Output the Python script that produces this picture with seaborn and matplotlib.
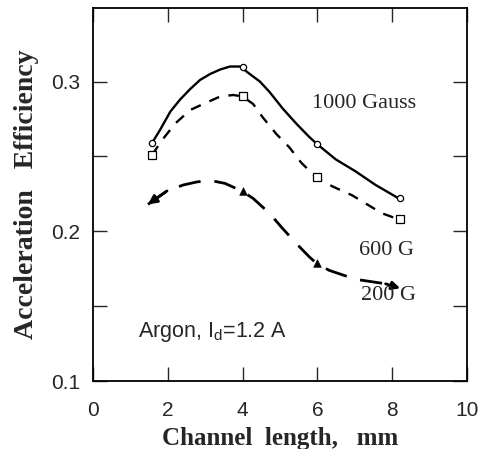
import matplotlib
matplotlib.use("Agg")
import matplotlib.pyplot as plt
import seaborn as sns

# measured data points
x_pts = [1.58, 4.0, 6.0, 8.2]
eff_1000 = [0.259, 0.310, 0.258, 0.222]
eff_600 = [0.251, 0.290, 0.236, 0.208]
eff_200 = [0.218, 0.227, 0.179, 0.162]

# hand-drawn fit curves
c1000_x = [1.58, 1.80, 2.07, 2.33, 2.60, 2.86, 3.13, 3.40, 3.66, 3.93, 4.19, 4.46, 4.72,
           5.07, 5.43, 5.78, 6.0, 6.49, 7.02, 7.55, 8.17]
c1000_y = [0.259, 0.268, 0.280, 0.288, 0.295, 0.301, 0.305, 0.308, 0.310, 0.310, 0.305,
           0.300, 0.293, 0.282, 0.272, 0.263, 0.258, 0.248, 0.240, 0.231, 0.222]
c600_x = [1.58, 1.85, 2.20, 2.60, 3.04, 3.40, 3.75, 4.0, 4.28, 4.54, 4.90, 5.25, 5.56,
          5.96, 6.40, 6.93, 7.46, 7.73, 8.17]
c600_y = [0.251, 0.261, 0.272, 0.281, 0.286, 0.290, 0.291, 0.290, 0.285, 0.276, 0.265,
          0.256, 0.246, 0.236, 0.230, 0.224, 0.216, 0.212, 0.208]
c200_x = [1.47, 1.98, 2.42, 2.78, 3.13, 3.53, 3.97, 4.28, 4.72, 5.03, 5.43, 5.78, 5.96,
          6.31, 7.02, 7.82, 8.21]
c200_y = [0.218, 0.227, 0.231, 0.233, 0.234, 0.232, 0.227, 0.222, 0.212, 0.203, 0.192,
          0.183, 0.179, 0.174, 0.168, 0.165, 0.162]

x_ticks = [0, 2, 4, 6, 8, 10]
y_ticks = [0.1, 0.2, 0.3]

sns.set_style("ticks")
plt.rcParams['font.family'] = ['Liberation Sans', 'DejaVu Sans']

fig = plt.figure(figsize=(4.97, 4.49), dpi=100)
ax = fig.add_axes([0.187, 0.151, 0.753, 0.831])

sns.lineplot(x=c1000_x, y=c1000_y, ax=ax, color='black', lw=1.7, sort=False, estimator=None)
sns.lineplot(x=c600_x, y=c600_y, ax=ax, color='black', lw=1.7, sort=False,
             estimator=None).lines[-1].set_dashes([4.5, 4])
sns.lineplot(x=c200_x[:-1], y=c200_y[:-1], ax=ax, color='black', lw=2.0, sort=False,
             estimator=None).lines[-1].set_dashes([8, 5])

sns.scatterplot(x=x_pts, y=eff_1000, ax=ax, marker='o', s=20, facecolor='white',
                edgecolor='black', linewidth=0.9, zorder=5)
sns.scatterplot(x=x_pts, y=eff_600, ax=ax, marker='s', s=26, facecolor='white',
                edgecolor='black', linewidth=0.9, zorder=5)
sns.scatterplot(x=x_pts[1:3], y=eff_200[1:3], ax=ax, marker='^', s=30, color='black',
                edgecolor='black', zorder=5)
# arrowheads at the ends of the 200 G curve
ax.annotate('', xy=(c200_x[0], c200_y[0]), xytext=(c200_x[1], c200_y[1]),
            arrowprops=dict(arrowstyle='-|>', color='black', lw=2.0, mutation_scale=13,
                            shrinkA=0, shrinkB=0))
ax.annotate('', xy=(c200_x[-1], c200_y[-1]), xytext=(c200_x[-2], c200_y[-2]),
            arrowprops=dict(arrowstyle='-|>', color='black', lw=2.0, mutation_scale=12,
                            shrinkA=0, shrinkB=0))

ax.set_xlim(0, 10)
ax.set_ylim(0.1, 0.349)
ax.set_xticks(x_ticks)
ax.set_xticklabels([str(v) for v in x_ticks])
ax.set_yticks(y_ticks)
ax.set_yticklabels(['0.1', '0.2', '0.3'])
ax.set_yticks([0.15, 0.25], minor=True)
ax.tick_params(axis='both', which='both', direction='in', length=10, width=1,
               top=True, right=True, labelsize=15)
ax.tick_params(axis='x', pad=14)
ax.tick_params(axis='y', pad=9)
for s in ax.spines.values():
    s.set_linewidth(1.3)
    s.set_color('black')

ax.set_xlabel('Channel  length,   mm', family='Liberation Serif', fontweight='bold',
              fontsize=18, labelpad=5)
ax.set_ylabel('Acceleration   Efficiency', family='Liberation Serif', fontweight='bold',
              fontsize=20, labelpad=9)

ax.text(5.85, 0.285, '1000 Gauss', family='Liberation Serif', fontsize=16, va='center', ha='left')
ax.text(7.85, 0.187, '600 G', family='Liberation Serif', fontsize=16, va='center', ha='center')
ax.text(7.9, 0.157, '200 G', family='Liberation Serif', fontsize=16, va='center', ha='center')
ax.text(1.2, 0.133, 'Argon, I$_\\mathregular{d}$=1.2 A', fontsize=15.5, va='center', ha='left')

fig.savefig('out.png', dpi=100, facecolor='white')
